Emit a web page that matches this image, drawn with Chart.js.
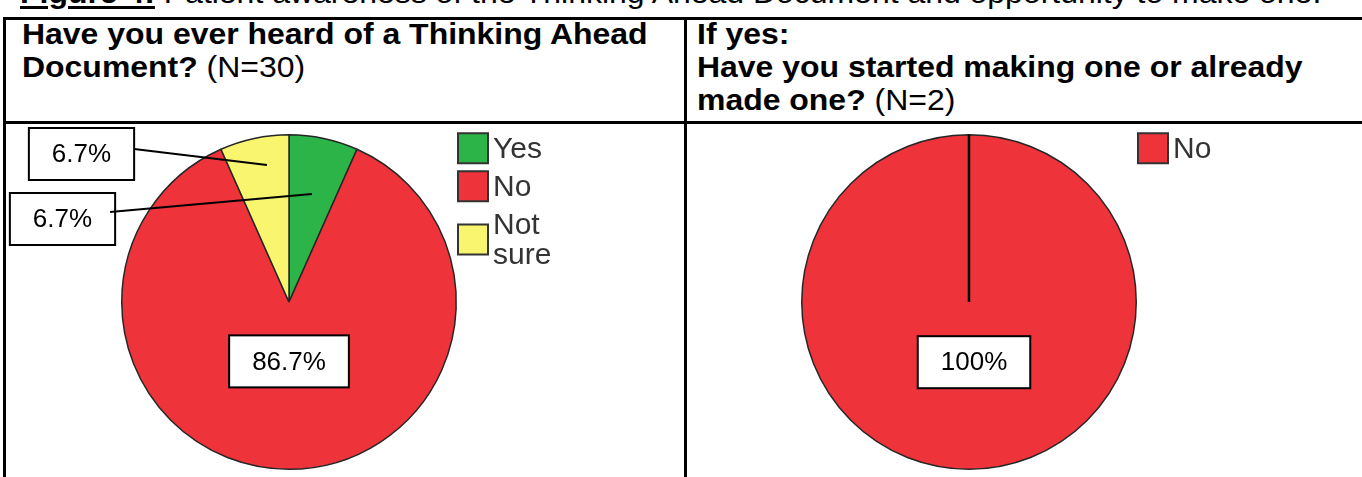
<!DOCTYPE html>
<html>
<head>
<meta charset="utf-8">
<script src="https://cdn.jsdelivr.net/npm/chart.js@4"></script>
<style>
html,body{margin:0;padding:0;background:#fff;}
body{width:1362px;height:477px;position:relative;overflow:hidden;font-family:"Liberation Sans",Arial,sans-serif;color:#000;}
.rule{position:absolute;background:#000;}
.caption{position:absolute;left:20px;top:-24px;font-size:30px;line-height:33px;white-space:nowrap;transform:scaleX(1.065);transform-origin:0 0;}
.caption b{text-decoration:underline;text-decoration-thickness:3px;text-underline-offset:3px;}
.head{position:absolute;top:17px;font-size:30px;line-height:33px;white-space:nowrap;transform:scaleX(1.065);transform-origin:0 0;}
canvas{position:absolute;}
</style>
</head>
<body>
<div class="caption"><b>Figure 4:</b> Patient awareness of the Thinking Ahead Document and opportunity to make one.</div>

<div class="rule" style="left:3px;top:17px;width:1359px;height:3px"></div>
<div class="rule" style="left:3px;top:121px;width:1359px;height:3px"></div>
<div class="rule" style="left:3px;top:17px;width:3px;height:460px"></div>
<div class="rule" style="left:684px;top:17px;width:3px;height:460px"></div>

<div class="head" style="left:22px"><b>Have you ever heard of a Thinking Ahead</b><br><b>Document?</b> (N=30)</div>
<div class="head" style="left:697px"><b>If yes:</b><br><b>Have you started making one or already</b><br><b>made one?</b> (N=2)</div>

<canvas id="awareness" width="678" height="353" style="left:6px;top:124px"></canvas>
<canvas id="progress" width="675" height="353" style="left:687px;top:124px"></canvas>

<script>
// Survey answers
const awarenessLabels = ['Yes', 'No', 'Not sure'];
const awarenessCounts = [2, 26, 2];          // N = 30
const progressLabels = ['No'];
const progressCounts = [2];                   // N = 2

const sliceColours = { 'Yes': '#2db449', 'No': '#ef333b', 'Not sure': '#f9f56e' };

// Where each slice's percentage box goes: inside the slice along its
// middle angle, or off to the side with a leader line into the slice.
const calloutLayout = {
  awareness: [
    { dx: -226.5, dy: -83, anchor: 0.66, inset: 5, rise: 7 },
    { inside: 0.355 },
    { dx: -207.5, dy: -148, anchor: 0.83, inset: 0, rise: 5, turn: 0.05 }
  ],
  progress: [
    { inside: 0.36, shift: 5 }
  ]
};

function percentText(v) {
  const s = v.toFixed(1);
  return (s.endsWith('.0') ? s.slice(0, -2) : s) + '%';
}

// Draws the boxed percentage callouts, the legend beside the pie,
// and the radius line of a slice that covers the whole circle.
const pieDecor = {
  id: 'pieDecor',
  afterDraw(chart) {
    const ctx = chart.ctx;
    const layout = calloutLayout[chart.canvas.id];
    const meta = chart.getDatasetMeta(0);
    const ds = chart.data.datasets[0];
    const values = ds.data;
    const total = values.reduce((a, b) => a + b, 0);
    const first = meta.data[0];
    const ox = first.x, oy = first.y, r = first.outerRadius;

    // slice angles, clockwise from 12 o'clock
    const slices = [];
    let acc = 0;
    values.forEach((v) => {
      const s = -Math.PI / 2 + 2 * Math.PI * acc / total;
      acc += v;
      const e = -Math.PI / 2 + 2 * Math.PI * acc / total;
      slices.push({ start: s, end: e, mid: (s + e) / 2, share: v / total });
    });

    slices.forEach((sl) => {
      if (sl.share >= 1) {
        ctx.save();
        ctx.strokeStyle = '#000';
        ctx.lineWidth = 2.5;
        ctx.beginPath();
        ctx.moveTo(ox, oy);
        ctx.lineTo(ox + Math.cos(sl.start) * r, oy + Math.sin(sl.start) * r);
        ctx.stroke();
        ctx.restore();
      }
    });

    // percentage callouts
    ctx.save();
    ctx.font = '26px "Liberation Sans", Arial, sans-serif';
    ctx.textAlign = 'center';
    ctx.textBaseline = 'middle';
    slices.forEach((sl, i) => {
      const place = layout[i];
      const txt = percentText(sl.share * 100);
      const bw = ctx.measureText(txt).width + 46;
      const bh = 52;
      let cx, cy;
      if (place.inside) {
        cx = ox + Math.cos(sl.mid) * r * place.inside + (place.shift || 0);
        cy = oy + Math.sin(sl.mid) * r * place.inside;
      } else {
        cx = ox + place.dx;
        cy = oy + place.dy;
      }
      ctx.fillStyle = '#ffffff';
      ctx.fillRect(cx - bw / 2, cy - bh / 2, bw, bh);
      ctx.strokeStyle = '#000000';
      ctx.lineWidth = 2;
      ctx.strokeRect(cx - bw / 2, cy - bh / 2, bw, bh);
      ctx.fillStyle = '#000000';
      ctx.fillText(txt, cx, cy + 1);
      if (place.anchor) {
        const a = sl.mid + (place.turn || 0);
        ctx.beginPath();
        ctx.moveTo(cx + bw / 2 - place.inset, cy - place.rise);
        ctx.lineTo(ox + Math.cos(a) * r * place.anchor, oy + Math.sin(a) * r * place.anchor);
        ctx.stroke();
      }
    });
    ctx.restore();

    // legend
    const area = chart.chartArea;
    const box = 30, lineH = 30.5, gap = 7.5;
    let y = area.top - 1;
    const x = area.right + 1;
    ctx.save();
    ctx.font = '30px "Liberation Sans", Arial, sans-serif';
    ctx.textBaseline = 'middle';
    ctx.textAlign = 'left';
    chart.data.labels.forEach((label, i) => {
      const lines = ctx.measureText(label).width > 70 ? label.split(' ') : [label];
      const h = Math.max(box, lines.length * lineH);
      const c = y + h / 2;
      ctx.fillStyle = ds.backgroundColor[i];
      ctx.fillRect(x, c - box / 2, box, box);
      ctx.strokeStyle = '#333';
      ctx.lineWidth = 2;
      ctx.strokeRect(x, c - box / 2, box, box);
      ctx.fillStyle = '#333';
      lines.forEach((ln, k) => {
        ctx.fillText(ln, x + box + 5, c + (k - (lines.length - 1) / 2) * lineH + 1);
      });
      y += h + gap;
    });
    ctx.restore();
  }
};

function makePie(id, labels, counts, padding) {
  return new Chart(document.getElementById(id), {
    type: 'pie',
    data: {
      labels: labels,
      datasets: [{
        data: counts,
        backgroundColor: labels.map(l => sliceColours[l]),
        borderColor: '#262626',
        borderWidth: 1.5
      }]
    },
    options: {
      responsive: false,
      animation: false,
      events: [],
      layout: { padding: padding },
      plugins: {
        legend: { display: false },
        tooltip: { enabled: false }
      }
    },
    plugins: [pieDecor]
  });
}

makePie('awareness', awarenessLabels, awarenessCounts, { left: 115, right: 227, top: 10, bottom: 7 });
makePie('progress', progressLabels, progressCounts, { left: 114, right: 225, top: 10, bottom: 7 });
</script>
</body>
</html>
